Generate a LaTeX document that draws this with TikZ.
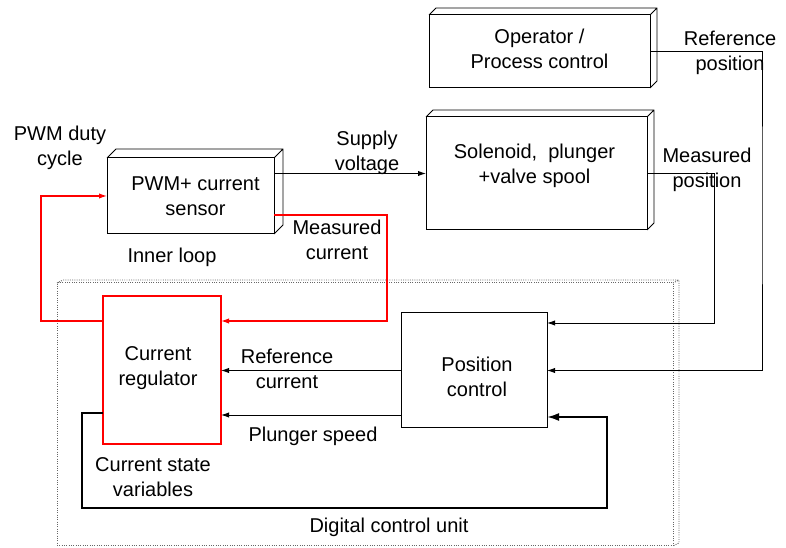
\documentclass[tikz,border=0pt]{standalone}
\usepackage{fontspec}
\setmainfont{Liberation Sans}
\usetikzlibrary{calc,arrows.meta}
\newcommand{\pxu}{0.75pt}
\tikzset{
  blk/.style 2 args={draw,line width=0.75pt,outer sep=0pt,align=center,
    minimum width=#1*\pxu,minimum height=#2*\pxu,inner sep=0pt},
  lbl/.style={align=center,inner sep=0pt},
  redln/.style={red,line width=0.9pt},
}
\begin{document}
\begin{tikzpicture}[x=\pxu,y=-\pxu,line width=0.7pt,>={Latex[length=6pt,width=4pt]},
    font=\fontsize{15}{18.75}\selectfont]
	\useasboundingbox (0,0) rectangle (786,548);
	% digital control unit
	\node[blk={616}{263},draw=gray!80!black,densely dotted] (dcu) at (365,414.5) {};
	\draw[gray!80!black,densely dotted] (dcu.north west) -- ++(6,-3) -- ($(dcu.north east)+(6,-3)$)
		-- ($(dcu.south east)+(6,-3)$) -- (dcu.south east) (dcu.north east) -- ++(6,-3);
	% blocks
	\node[blk={221}{73}] (oper) at (539.5,51.5) {};
	\node[blk={221}{113}] (sol) at (536.5,173.5) {};
	\node[blk={167}{76}] (pwm) at (190.5,196) {};
	\node[blk={118}{148},draw=red,line width=0.9pt] (reg) at (162,370) {};
	\node[blk={146}{115}] (pos) at (474,370.5) {};
	\foreach \n/\d in {oper/7,sol/7,pwm/9}{
		\draw (\n.north west) -- ++(\d,-\d) -- ($(\n.north east)+(\d,-\d)$)
			-- ($(\n.south east)+(\d,-\d)$) -- (\n.south east) (\n.north east) -- ++(\d,-\d);
	}
	% block texts
	\node[lbl] (opertxt) at ($(oper)+(0,-3)$) {Operator /\\Process control};
	\node[lbl] (soltxt) at ($(sol)+(-2,-8)$) {Solenoid,~ plunger\\+valve spool};
	\node[lbl] (pwmtxt) at ($(pwm)+(5,0)$) {PWM+ current\\sensor};
	\node[lbl] (regtxt) at ($(reg)+(-4,-2)$) {Current\\regulator};
	\node[lbl] (postxt) at ($(pos)+(3,6)$) {Position\\control};
	% bends
	\coordinate (rpx) at (762,200);
	\coordinate (mpx) at (714,323);
	\coordinate (mcx) at (387,321);
	\coordinate (dcx) at (41,321);
	\coordinate (svx) at (82,413);
	\coordinate (svy) at (607,508);
	% connectors
	\draw[->] (oper.east) -| (rpx) |- (pos.east);
	\draw[->] (sol.east) -| (mpx) -- (mpx -| pos.east);
	\draw[->] (pwm.east |- sol.west) -- (sol.west);
	\draw[redln,->] ($(pwm.east)+(0,19)$) -| (mcx) -- (mcx -| reg.east);
	\draw[redln,->] (dcx -| reg.west) -- (dcx) |- (pwm.west);
	\draw[->] (pos.west) -- (pos.west -| reg.east);
	\draw[->] ($(pos.south west)+(0,-13)$) -- ($(pos.south west -| reg.east)+(0,-13)$);
	\draw[line width=1.5pt,-{Latex[length=9pt,width=6pt]}] (svx -| reg.west) -- (svx) |- (svy)
		|- ($(pos.south east)+(0,-11)$);
	% labels
	\node[lbl] (refpos) at (730,53) {Reference\\position};
	\node[lbl] (measpos) at (707,170) {Measured\\position};
	\node[lbl] (supply) at (367,153) {Supply\\voltage};
	\node[lbl] (duty) at (60,148) {PWM duty\\cycle};
	\node[lbl] (inner) at (172,257) {Inner loop};
	\node[lbl] (meascur) at (337,240) {Measured\\current};
	\node[lbl] (refcur) at (287,369) {Reference\\current};
	\node[lbl] (speed) at (313,436) {Plunger speed};
	\node[lbl] (state) at (153,477) {Current state\\variables};
	\node[lbl] (dculbl) at (389,527) {Digital control unit};
\end{tikzpicture}
\end{document}
